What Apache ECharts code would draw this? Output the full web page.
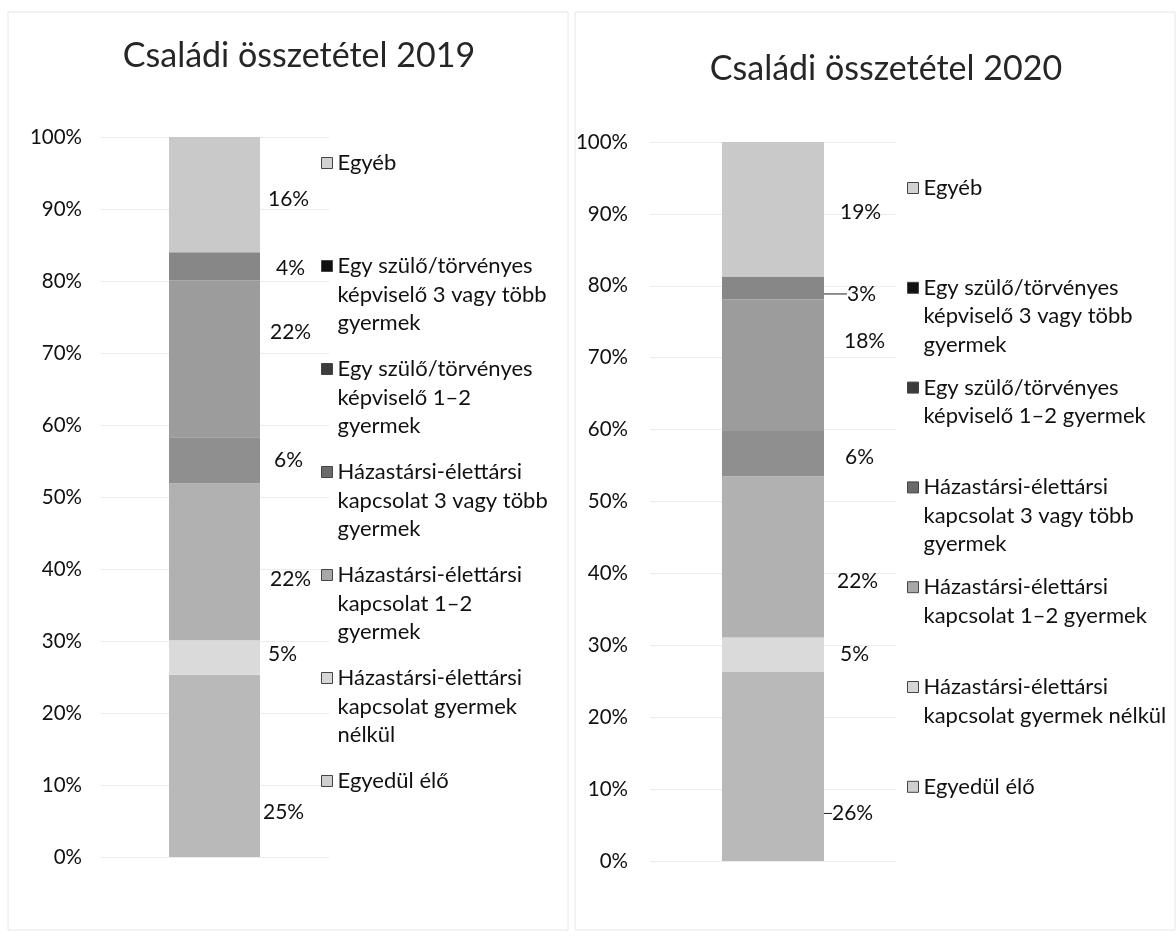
<!DOCTYPE html>
<html>
<head>
<meta charset="utf-8">
<script src="https://cdn.jsdelivr.net/npm/echarts@6/dist/echarts.min.js"></script>
<style>
  html, body { margin: 0; padding: 0; background: #fff; }
  #main { width: 1176px; height: 937px; }
</style>
</head>
<body>
<div id="main"></div>
<script>
// series, bottom to top of the stack
const seriesNames = [
  "Egyedül élő",
  "Házastársi-élettársi kapcsolat gyermek nélkül",
  "Házastársi-élettársi kapcsolat 1–2 gyermek",
  "Házastársi-élettársi kapcsolat 3 vagy több gyermek",
  "Egy szülő/törvényes képviselő 1–2 gyermek",
  "Egy szülő/törvényes képviselő 3 vagy több gyermek",
  "Egyéb"
]
const categories2019 = ["2019"]
const categories2020 = ["2020"]
const values2019 = [25.3, 4.8, 21.8, 6.4, 21.8, 3.9, 16.0]
const values2020 = [26.3, 4.8, 22.4, 6.3, 18.3, 3.2, 18.7]
const titles = ["Családi összetétel 2019", "Családi összetétel 2020"]

// legend text as it wraps in each chart (same order as seriesNames)
const legendText2019 = [
  "Egyedül élő",
  "Házastársi-élettársi\nkapcsolat gyermek\nnélkül",
  "Házastársi-élettársi\nkapcsolat 1–2\ngyermek",
  "Házastársi-élettársi\nkapcsolat 3 vagy több\ngyermek",
  "Egy szülő/törvényes\nképviselő 1–2\ngyermek",
  "Egy szülő/törvényes\nképviselő 3 vagy több\ngyermek",
  "Egyéb"
]
const legendText2020 = [
  "Egyedül élő",
  "Házastársi-élettársi\nkapcsolat gyermek nélkül",
  "Házastársi-élettársi\nkapcsolat 1–2 gyermek",
  "Házastársi-élettársi\nkapcsolat 3 vagy több\ngyermek",
  "Egy szülő/törvényes\nképviselő 1–2 gyermek",
  "Egy szülő/törvényes\nképviselő 3 vagy több\ngyermek",
  "Egyéb"
]

const FONT = "Lato, 'Open Sans', sans-serif"
const LH = 28.5
const grays = ["#b9b9b9", "#dadada", "#b1b1b1", "#8f8f8f", "#9c9c9c", "#878787", "#c9c9c9"]
// legend swatches came out darker in the scan than the bars
const swatches = ["#cfcfcf", "#d6d6d6", "#a8a8a8", "#6a6a6a", "#3c3c3c", "#111111", "#d2d2d2"]

const myChart = echarts.init(document.getElementById("main"))

function makeSeries(values, idx, barWidth, moves, lines) {
  return seriesNames.map((name, i) => ({
    name: name,
    type: "bar",
    stack: "s" + idx,
    xAxisIndex: idx,
    yAxisIndex: idx,
    barWidth: barWidth,
    itemStyle: {color: grays[i]},
    label: {
      show: true,
      position: "right",
      distance: 8,
      formatter: p => Math.round(p.value) + "%",
      fontFamily: FONT,
      fontSize: 21,
      color: "#111"
    },
    labelLayout: {dx: moves[i][0], dy: moves[i][1]},
    labelLine: {show: !!lines[i], lineStyle: {color: "#222", width: 1}},
    data: [values[i]]
  }))
}

// every item gets 5 text lines so the swatch sits on the first real line
function makeLegend(texts, left, top, step) {
  const wrap = {}
  seriesNames.forEach((n, i) => {
    const k = texts[i].split("\n").length
    wrap[n] = "\n\n" + texts[i] + "\n".repeat(3 - k)
  })
  return {
    orient: "vertical",
    left: left,
    top: top,
    padding: 0,
    itemGap: step - 5 * LH,
    itemWidth: 11,
    itemHeight: 11,
    icon: "rect",
    formatter: n => wrap[n],
    textStyle: {fontFamily: FONT, fontSize: 22, lineHeight: LH, color: "#111",
      backgroundColor: "rgba(0,0,0,0)"},
    data: seriesNames.map((n, i) => ({
      name: n,
      itemStyle: {color: swatches[i], borderColor: "#444", borderWidth: 1}
    })).reverse()
  }
}

function yAxisFor(idx) {
  return {
    gridIndex: idx,
    type: "value",
    min: 0,
    max: 100,
    interval: 10,
    axisLine: {show: false},
    axisTick: {show: false},
    axisLabel: {formatter: "{value}%", fontFamily: FONT, fontSize: 20.5, color: "#111", margin: idx ? 22 : 18},
    splitLine: {lineStyle: {color: "#ececec", width: 1}}
  }
}

function xAxisFor(idx, cats) {
  return {
    gridIndex: idx,
    type: "category",
    data: cats,
    axisLine: {show: false},
    axisTick: {show: false},
    axisLabel: {show: false}
  }
}

const option = {
  backgroundColor: "#fff",
  animation: false,
  title: [
    {text: titles[0], left: 294, top: 34, textAlign: "center",
      textStyle: {fontFamily: FONT, fontSize: 34, fontWeight: "normal", color: "#262626"}},
    {text: titles[1], left: 881, top: 47, textAlign: "center",
      textStyle: {fontFamily: FONT, fontSize: 34, fontWeight: "normal", color: "#262626"}}
  ],
  graphic: [
    {type: "rect", shape: {x: 8, y: 12, width: 560, height: 918}, style: {fill: "none", stroke: "#e6e6e6", lineWidth: 1}},
    {type: "rect", shape: {x: 575, y: 12, width: 600, height: 918}, style: {fill: "none", stroke: "#e6e6e6", lineWidth: 1}}
  ],
  legend: [
    makeLegend(legendText2019, 321, 163 - 2.5 * LH, 103),
    makeLegend(legendText2020, 907, 188 - 2.5 * LH, 99.8)
  ],
  grid: [
    {left: 100, top: 137, width: 229, height: 720},
    {left: 650, top: 142, width: 246, height: 719}
  ],
  xAxis: [xAxisFor(0, categories2019), xAxisFor(1, categories2020)],
  yAxis: [yAxisFor(0), yAxisFor(1)],
  series: [
    ...makeSeries(values2019, 0, 91,
      [[-5, 46], [0, -3], [2, 17], [6, 0], [2, -27], [8, 2], [0, 5]],
      [0, 0, 0, 0, 0, 0, 0]),
    ...makeSeries(values2020, 1, 102,
      [[0, 47], [8, 0], [5, 24], [13, 4], [12, -24], [15, 6], [8, 3]],
      [1, 0, 0, 0, 0, 1, 0])
  ]
}

myChart.setOption(option)
</script>
</body>
</html>
